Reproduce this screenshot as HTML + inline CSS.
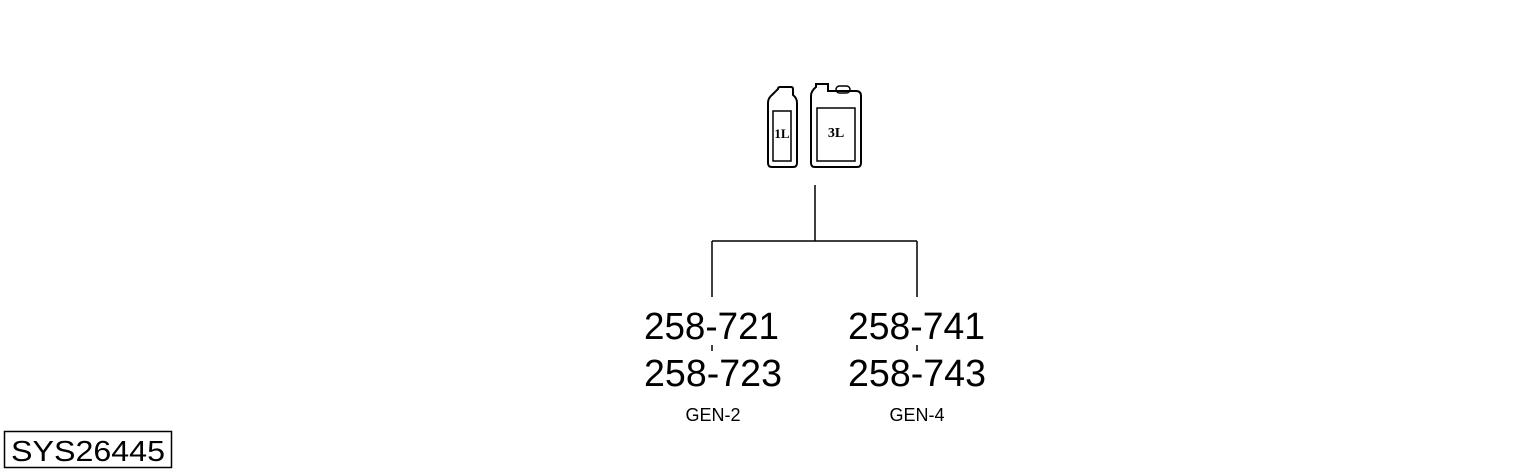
<!DOCTYPE html>
<html><head><meta charset="utf-8"><style>
html,body{margin:0;padding:0;background:#fff;}
svg{display:block;}
</style></head><body>
<svg width="1530" height="474" viewBox="0 0 1530 474" xmlns="http://www.w3.org/2000/svg" font-family="Liberation Sans, Arial, sans-serif">
<g fill="none" stroke="#000" stroke-width="2">
  <path d="M778,89 q0,-2 2,-2 h11 q2,0 2,2 v6 q4,3 4,8 v60 q0,4 -4,4 h-21 q-4,0 -4,-4 v-60 q0,-5 4,-8 z"/>
  <rect x="773" y="111" width="18" height="50" stroke-width="1.5"/>
  <path d="M816,84 h12 v7 h28 q5,0 5,5 v67 q0,4 -4,4 h-42 q-4,0 -4,-4 v-67 q0,-5 5,-9 z"/>
  <rect x="836" y="86" width="14" height="7" rx="3.5" stroke-width="1.5"/>
  <rect x="817" y="108" width="38" height="53" stroke-width="1.5"/>
</g>
<text x="782" y="138" font-family="Liberation Serif, serif" font-weight="bold" font-size="13" text-anchor="middle">1L</text>
<text x="836" y="137" font-family="Liberation Serif, serif" font-weight="bold" font-size="14" text-anchor="middle">3L</text>
<g stroke="#000" stroke-width="1.5" fill="none">
  <path d="M815,185 V241 M712,241 H917 M712,241 V297 M917,241 V297"/>
  <path d="M712,345 V351 M917,345 V351"/>
</g>
<g font-size="38">
<text x="644" y="339" textLength="135" lengthAdjust="spacingAndGlyphs">258-721</text>
<text x="644" y="386" textLength="138" lengthAdjust="spacingAndGlyphs">258-723</text>
<text x="848" y="339" textLength="137" lengthAdjust="spacingAndGlyphs">258-741</text>
<text x="848" y="386" textLength="138" lengthAdjust="spacingAndGlyphs">258-743</text>
</g>
<text x="713" y="421" font-size="18" text-anchor="middle">GEN-2</text>
<text x="917" y="421" font-size="18" text-anchor="middle">GEN-4</text>
<rect x="4.5" y="431.5" width="167" height="36" fill="none" stroke="#000" stroke-width="1.5"/>
<text x="11" y="461" font-size="29" textLength="154" lengthAdjust="spacingAndGlyphs">SYS26445</text>
</svg>
</body></html>
